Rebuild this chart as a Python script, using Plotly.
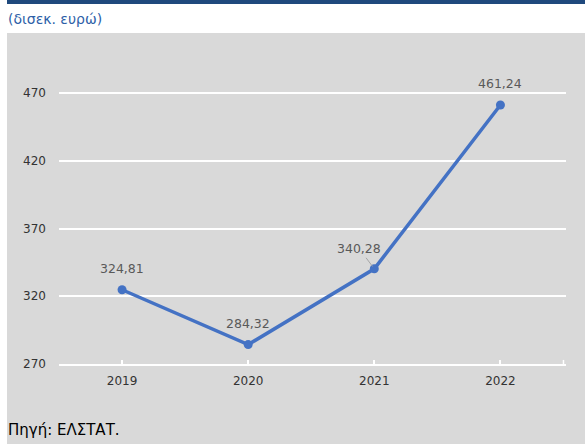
import plotly.graph_objects as go

years = ["2019", "2020", "2021", "2022"]
values = [324.81, 284.32, 340.28, 461.24]
labels = ["324,81", "284,32", "340,28", "461,24"]
y_ticks = [270, 320, 370, 420, 470]

L, R, T, B = 59, 19, 66, 80
W, H = 585, 444
pw, ph = W - L - R, H - T - B

def px(x):
    return (x - L) / pw

def py(y):
    return (H - B - y) / ph

xs = list(range(len(years)))

fig = go.Figure()
fig.add_trace(go.Scatter(
    x=xs, y=values, mode="lines+markers",
    line=dict(color="#4472c4", width=3.5),
    marker=dict(color="#4472c4", size=9),
    hoverinfo="skip", showlegend=False,
))

annotations = []
lbl_font = dict(family="DejaVu Sans", size=12.5, color="#595959")
for i, (v, t) in enumerate(zip(values, labels)):
    if i == 2:
        annotations.append(dict(x=xs[i], y=v, xref="x", yref="y", text=t,
                                showarrow=True, ax=-15, ay=-20, arrowhead=0,
                                arrowwidth=1, arrowcolor="#a6a6a6", standoff=3,
                                font=lbl_font))
    else:
        annotations.append(dict(x=xs[i], y=v, xref="x", yref="y", text=t,
                                showarrow=False, yshift=21, font=lbl_font))

annotations.append(dict(x=px(6), y=py(19), xref="paper", yref="paper",
                        xanchor="left", yanchor="middle", showarrow=False,
                        text="(δισεκ. ευρώ)",
                        font=dict(family="DejaVu Sans", size=14, color="#2e5fa8")))
annotations.append(dict(x=px(6), y=py(430), xref="paper", yref="paper",
                        xanchor="left", yanchor="middle", showarrow=False,
                        text="Πηγή: ΕΛΣΤΑΤ.",
                        font=dict(family="DejaVu Sans", size=15, color="#000000")))

shapes = [
    dict(type="rect", xref="paper", yref="paper", x0=px(7), x1=px(W), y0=py(H), y1=py(33),
         fillcolor="#d9d9d9", line=dict(width=0), layer="below"),
    dict(type="rect", xref="paper", yref="paper", x0=px(7), x1=px(W), y0=py(4), y1=py(0),
         fillcolor="#1f497d", line=dict(width=0), layer="below"),
    dict(type="line", xref="x", yref="y", x0=3.5, x1=3.5, y0=270, y1=273,
         line=dict(color="white", width=1.5), layer="below"),
]

fig.update_layout(
    width=W, height=H,
    margin=dict(l=L, r=R, t=T, b=B),
    paper_bgcolor="white", plot_bgcolor="#d9d9d9",
    annotations=annotations, shapes=shapes,
    xaxis=dict(range=[-0.5, 3.52], tickvals=xs, ticktext=years,
               showgrid=False, zeroline=False, showline=True, linecolor="white",
               linewidth=1.5, ticks="inside", ticklen=4, tickcolor="white",
               tickwidth=1.5,
               tickfont=dict(family="DejaVu Sans", size=12, color="#333333"),
               ticklabelstandoff=5, fixedrange=True),
    yaxis=dict(range=[270, 490], tickvals=y_ticks, showgrid=True,
               gridcolor="white", gridwidth=1.5, zeroline=False, showline=False,
               ticks="", tickfont=dict(family="DejaVu Sans", size=12, color="#333333"),
               ticklabelstandoff=12, fixedrange=True),
)

fig.write_html("out.html", config={"displayModeBar": False},
               post_script="document.body.style.margin='0px';document.body.style.overflow='hidden';")
